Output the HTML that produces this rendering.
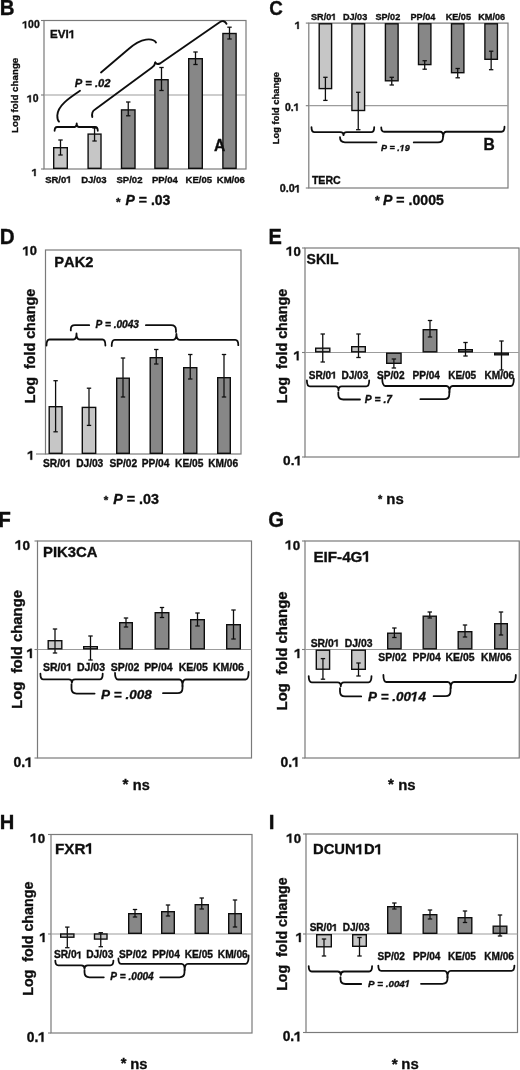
<!DOCTYPE html><html><head><meta charset="utf-8"><style>html,body{margin:0;padding:0;background:#fff}svg{display:block}</style></head><body><svg width="520" height="1070" viewBox="0 0 520 1070"><defs><filter id="bl" x="0" y="0" width="1" height="1"><feGaussianBlur stdDeviation="0.35"/></filter></defs><g filter="url(#bl)"><rect width="520" height="1070" fill="#fff"/><g transform="translate(-0.33,14.60) scale(0.9684,1)">
<text x="0.00" y="0.00" xml:space="preserve" style="font-family:'Liberation Sans',sans-serif;font-weight:bold;font-kerning:none;font-size:21.16px" fill="#111" stroke="#111" stroke-width="0.35"><tspan style="font-style:normal">B</tspan></text>
</g>
<rect x="44.00" y="20.50" width="202.00" height="148.50" fill="none" stroke="#7a7a7a" stroke-width="1.2"/>
<line x1="44" y1="95" x2="246" y2="95" stroke="#9c9c9c" stroke-width="1.2"/>
<line x1="41" y1="95" x2="44" y2="95" stroke="#7a7a7a" stroke-width="1.1"/>
<line x1="41" y1="20.5" x2="44" y2="20.5" stroke="#7a7a7a" stroke-width="1.1"/>
<line x1="41" y1="169" x2="44" y2="169" stroke="#7a7a7a" stroke-width="1.1"/>
<text x="22.34" y="28.34" xml:space="preserve" style="font-family:'Liberation Sans',sans-serif;font-weight:bold;font-kerning:none;font-size:10.40px" fill="#111" stroke="#111" stroke-width="0.35"><tspan style="font-style:normal"> 00</tspan></text>
<path transform="translate(22.34,28.34) scale(0.00508,-0.00508)" d="M478,0L478,1090L60,880L60,1130L520,1409L759,1409L759,0Z" fill="#111" stroke="#111" stroke-width="0.35" vector-effect="non-scaling-stroke"/>
<text x="26.98" y="102.34" xml:space="preserve" style="font-family:'Liberation Sans',sans-serif;font-weight:bold;font-kerning:none;font-size:10.40px" fill="#111" stroke="#111" stroke-width="0.35"><tspan style="font-style:normal"> 0</tspan></text>
<path transform="translate(26.98,102.34) scale(0.00508,-0.00508)" d="M478,0L478,1090L60,880L60,1130L520,1409L759,1409L759,0Z" fill="#111" stroke="#111" stroke-width="0.35" vector-effect="non-scaling-stroke"/>
<text x="31.77" y="176.09" xml:space="preserve" style="font-family:'Liberation Sans',sans-serif;font-weight:bold;font-kerning:none;font-size:10.40px" fill="#111" stroke="#111" stroke-width="0.35"><tspan style="font-style:normal"> </tspan></text>
<path transform="translate(31.77,176.09) scale(0.00508,-0.00508)" d="M478,0L478,1090L60,880L60,1130L520,1409L759,1409L759,0Z" fill="#111" stroke="#111" stroke-width="0.35" vector-effect="non-scaling-stroke"/>
<text x="50.04" y="38.27" xml:space="preserve" style="font-family:'Liberation Sans',sans-serif;font-weight:bold;font-kerning:none;font-size:11.64px" fill="#111" stroke="#111" stroke-width="0.35"><tspan style="font-style:normal">EVI </tspan></text>
<path transform="translate(68.81,38.27) scale(0.00569,-0.00569)" d="M478,0L478,1090L60,880L60,1130L520,1409L759,1409L759,0Z" fill="#111" stroke="#111" stroke-width="0.35" vector-effect="non-scaling-stroke"/>
<text transform="translate(17.61,133.03) rotate(-90)" xml:space="preserve" style="font-family:'Liberation Sans',sans-serif;font-weight:bold;font-size:9.76px" fill="#111" stroke="#111" stroke-width="0.35">Log fold change</text>
<rect x="53.70" y="147.70" width="13.60" height="20.60" fill="#c6c6c6" stroke="#111" stroke-width="1.4"/>
<line x1="60.5" y1="140" x2="60.5" y2="155" stroke="#111" stroke-width="1.3"/>
<line x1="58.3" y1="140" x2="62.7" y2="140" stroke="#111" stroke-width="1.3"/>
<line x1="58.3" y1="155" x2="62.7" y2="155" stroke="#111" stroke-width="1.3"/>
<rect x="88.10" y="134.10" width="12.90" height="34.20" fill="#c6c6c6" stroke="#111" stroke-width="1.4"/>
<line x1="94.55000000000001" y1="128" x2="94.55000000000001" y2="141" stroke="#111" stroke-width="1.3"/>
<line x1="92.35000000000001" y1="128" x2="96.75000000000001" y2="128" stroke="#111" stroke-width="1.3"/>
<line x1="92.35000000000001" y1="141" x2="96.75000000000001" y2="141" stroke="#111" stroke-width="1.3"/>
<rect x="121.50" y="109.90" width="13.50" height="58.40" fill="#878787" stroke="#111" stroke-width="1.4"/>
<line x1="128.25" y1="102" x2="128.25" y2="115.8" stroke="#111" stroke-width="1.3"/>
<line x1="126.05" y1="102" x2="130.45" y2="102" stroke="#111" stroke-width="1.3"/>
<line x1="126.05" y1="115.8" x2="130.45" y2="115.8" stroke="#111" stroke-width="1.3"/>
<rect x="154.90" y="79.70" width="13.20" height="88.60" fill="#878787" stroke="#111" stroke-width="1.4"/>
<line x1="161.5" y1="67.5" x2="161.5" y2="90.5" stroke="#111" stroke-width="1.3"/>
<line x1="159.3" y1="67.5" x2="163.7" y2="67.5" stroke="#111" stroke-width="1.3"/>
<line x1="159.3" y1="90.5" x2="163.7" y2="90.5" stroke="#111" stroke-width="1.3"/>
<rect x="188.70" y="58.70" width="13.60" height="109.60" fill="#878787" stroke="#111" stroke-width="1.4"/>
<line x1="195.5" y1="52" x2="195.5" y2="64.5" stroke="#111" stroke-width="1.3"/>
<line x1="193.3" y1="52" x2="197.7" y2="52" stroke="#111" stroke-width="1.3"/>
<line x1="193.3" y1="64.5" x2="197.7" y2="64.5" stroke="#111" stroke-width="1.3"/>
<rect x="222.90" y="33.50" width="13.20" height="134.80" fill="#878787" stroke="#111" stroke-width="1.4"/>
<line x1="229.5" y1="27.2" x2="229.5" y2="39" stroke="#111" stroke-width="1.3"/>
<line x1="227.3" y1="27.2" x2="231.7" y2="27.2" stroke="#111" stroke-width="1.3"/>
<line x1="227.3" y1="39" x2="231.7" y2="39" stroke="#111" stroke-width="1.3"/>
<text x="45.13" y="182.81" xml:space="preserve" style="font-family:'Liberation Sans',sans-serif;font-weight:bold;font-kerning:none;font-size:9.54px" fill="#111" stroke="#111" stroke-width="0.35"><tspan style="font-style:normal">SR/0 </tspan></text>
<path transform="translate(66.34,182.81) scale(0.00466,-0.00466)" d="M478,0L478,1090L60,880L60,1130L520,1409L759,1409L759,0Z" fill="#111" stroke="#111" stroke-width="0.35" vector-effect="non-scaling-stroke"/>
<text x="81.14" y="182.81" xml:space="preserve" style="font-family:'Liberation Sans',sans-serif;font-weight:bold;font-kerning:none;font-size:9.54px" fill="#111" stroke="#111" stroke-width="0.35"><tspan style="font-style:normal">DJ/03</tspan></text>
<text x="116.50" y="182.81" xml:space="preserve" style="font-family:'Liberation Sans',sans-serif;font-weight:bold;font-kerning:none;font-size:9.54px" fill="#111" stroke="#111" stroke-width="0.35"><tspan style="font-style:normal">SP/02</tspan></text>
<text x="151.92" y="182.81" xml:space="preserve" style="font-family:'Liberation Sans',sans-serif;font-weight:bold;font-kerning:none;font-size:9.54px" fill="#111" stroke="#111" stroke-width="0.35"><tspan style="font-style:normal">PP/04</tspan></text>
<text x="185.55" y="182.81" xml:space="preserve" style="font-family:'Liberation Sans',sans-serif;font-weight:bold;font-kerning:none;font-size:9.54px" fill="#111" stroke="#111" stroke-width="0.35"><tspan style="font-style:normal">KE/05</tspan></text>
<text x="216.76" y="182.81" xml:space="preserve" style="font-family:'Liberation Sans',sans-serif;font-weight:bold;font-kerning:none;font-size:9.54px" fill="#111" stroke="#111" stroke-width="0.35"><tspan style="font-style:normal">KM/06</tspan></text>
<text x="214.11" y="150.66" xml:space="preserve" style="font-family:'Liberation Sans',sans-serif;font-weight:bold;font-kerning:none;font-size:15.67px" fill="#111" stroke="#111" stroke-width="0.35"><tspan style="font-style:normal">A</tspan></text>
<text x="74.78" y="86.71" xml:space="preserve" style="font-family:'Liberation Sans',sans-serif;font-weight:bold;font-kerning:none;font-size:11.18px" fill="#111" stroke="#111" stroke-width="0.35"><tspan style="font-style:italic">P = .02</tspan></text>
<path d="M54.6,130.8 Q54.6,127 57.1,127 L74.7,127 Q76.7,127 76.7,123.3 Q76.7,127 78.7,127 L95.3,127 Q97.8,127 97.8,130.8" fill="none" stroke="#111" stroke-width="1.8" stroke-linecap="round" stroke-linejoin="round"/>
<path d="M80,90.8 C70,97.5 57.5,105.5 57.3,115.5 C57.3,118.5 57.8,120.5 59,121.7" fill="none" stroke="#111" stroke-width="1.9" stroke-linecap="round" stroke-linejoin="round"/>
<path d="M101,72.5 L128,49.5 C133,45 138.5,40.5 146,39.6 C151,39 154.5,40 156,42.5" fill="none" stroke="#111" stroke-width="1.9" stroke-linecap="round" stroke-linejoin="round"/>
<path d="M92.3,117 C91.5,113 92.5,111 95,109.5 L152,67.5 C154,66 155,64.5 155.3,62.5" fill="none" stroke="#111" stroke-width="1.9" stroke-linecap="round" stroke-linejoin="round"/>
<path d="M155.3,62.5 C156,64 157.5,64.5 160,63.5 L220,22 C222.5,20.5 225,21 226.5,23.8" fill="none" stroke="#111" stroke-width="1.9" stroke-linecap="round" stroke-linejoin="round"/>
<text x="115.94" y="205.58" xml:space="preserve" style="font-family:'Liberation Sans',sans-serif;font-weight:bold;font-kerning:none;font-size:11.84px" fill="#111" stroke="#111" stroke-width="0.35"><tspan style="font-style:normal">*</tspan></text>
<text x="125.62" y="204.98" xml:space="preserve" style="font-family:'Liberation Sans',sans-serif;font-weight:bold;font-kerning:none;font-size:14.00px" fill="#111" stroke="#111" stroke-width="0.35"><tspan style="font-style:italic">P</tspan><tspan style="font-style:normal"> = .03</tspan></text>
<g transform="translate(269.25,15.29) scale(0.8948,1)">
<text x="0.00" y="0.00" xml:space="preserve" style="font-family:'Liberation Sans',sans-serif;font-weight:bold;font-kerning:none;font-size:20.99px" fill="#111" stroke="#111" stroke-width="0.35"><tspan style="font-style:normal">C</tspan></text>
</g>
<rect x="308.80" y="23.10" width="199.20" height="164.90" fill="none" stroke="#7a7a7a" stroke-width="1.2"/>
<line x1="308.8" y1="105.7" x2="508" y2="105.7" stroke="#9c9c9c" stroke-width="1.2"/>
<line x1="305.8" y1="23.1" x2="308.8" y2="23.1" stroke="#7a7a7a" stroke-width="1.1"/>
<line x1="305.8" y1="105.7" x2="308.8" y2="105.7" stroke="#7a7a7a" stroke-width="1.1"/>
<line x1="305.8" y1="188" x2="308.8" y2="188" stroke="#7a7a7a" stroke-width="1.1"/>
<text x="294.87" y="28.94" xml:space="preserve" style="font-family:'Liberation Sans',sans-serif;font-weight:bold;font-kerning:none;font-size:10.40px" fill="#111" stroke="#111" stroke-width="0.35"><tspan style="font-style:normal"> </tspan></text>
<path transform="translate(294.87,28.94) scale(0.00508,-0.00508)" d="M478,0L478,1090L60,880L60,1130L520,1409L759,1409L759,0Z" fill="#111" stroke="#111" stroke-width="0.35" vector-effect="non-scaling-stroke"/>
<text x="285.08" y="110.74" xml:space="preserve" style="font-family:'Liberation Sans',sans-serif;font-weight:bold;font-kerning:none;font-size:10.40px" fill="#111" stroke="#111" stroke-width="0.35"><tspan style="font-style:normal">0. </tspan></text>
<path transform="translate(293.75,110.74) scale(0.00508,-0.00508)" d="M478,0L478,1090L60,880L60,1130L520,1409L759,1409L759,0Z" fill="#111" stroke="#111" stroke-width="0.35" vector-effect="non-scaling-stroke"/>
<text x="279.63" y="192.43" xml:space="preserve" style="font-family:'Liberation Sans',sans-serif;font-weight:bold;font-kerning:none;font-size:10.80px" fill="#111" stroke="#111" stroke-width="0.35"><tspan style="font-style:normal">0.0 </tspan></text>
<path transform="translate(294.64,192.43) scale(0.00527,-0.00527)" d="M478,0L478,1090L60,880L60,1130L520,1409L759,1409L759,0Z" fill="#111" stroke="#111" stroke-width="0.35" vector-effect="non-scaling-stroke"/>
<text transform="translate(279.31,144.21) rotate(-90)" xml:space="preserve" style="font-family:'Liberation Sans',sans-serif;font-weight:bold;font-size:9.37px" fill="#111" stroke="#111" stroke-width="0.35">Log fold change</text>
<rect x="319.20" y="23.80" width="12.40" height="64.80" fill="#c6c6c6" stroke="#111" stroke-width="1.4"/>
<line x1="325.4" y1="77.3" x2="325.4" y2="100.4" stroke="#111" stroke-width="1.3"/>
<line x1="323.2" y1="77.3" x2="327.59999999999997" y2="77.3" stroke="#111" stroke-width="1.3"/>
<line x1="323.2" y1="100.4" x2="327.59999999999997" y2="100.4" stroke="#111" stroke-width="1.3"/>
<rect x="351.90" y="23.80" width="12.70" height="86.70" fill="#c6c6c6" stroke="#111" stroke-width="1.4"/>
<line x1="358.25" y1="92.3" x2="358.25" y2="129.7" stroke="#111" stroke-width="1.3"/>
<line x1="356.05" y1="92.3" x2="360.45" y2="92.3" stroke="#111" stroke-width="1.3"/>
<line x1="356.05" y1="129.7" x2="360.45" y2="129.7" stroke="#111" stroke-width="1.3"/>
<rect x="385.40" y="23.80" width="12.70" height="57.00" fill="#878787" stroke="#111" stroke-width="1.4"/>
<line x1="391.75" y1="77.3" x2="391.75" y2="85" stroke="#111" stroke-width="1.3"/>
<line x1="389.55" y1="77.3" x2="393.95" y2="77.3" stroke="#111" stroke-width="1.3"/>
<line x1="389.55" y1="85" x2="393.95" y2="85" stroke="#111" stroke-width="1.3"/>
<rect x="418.50" y="23.80" width="12.40" height="40.80" fill="#878787" stroke="#111" stroke-width="1.4"/>
<line x1="424.70000000000005" y1="60.7" x2="424.70000000000005" y2="69.2" stroke="#111" stroke-width="1.3"/>
<line x1="422.50000000000006" y1="60.7" x2="426.90000000000003" y2="60.7" stroke="#111" stroke-width="1.3"/>
<line x1="422.50000000000006" y1="69.2" x2="426.90000000000003" y2="69.2" stroke="#111" stroke-width="1.3"/>
<rect x="451.50" y="23.80" width="12.40" height="48.90" fill="#878787" stroke="#111" stroke-width="1.4"/>
<line x1="457.70000000000005" y1="68.5" x2="457.70000000000005" y2="77.8" stroke="#111" stroke-width="1.3"/>
<line x1="455.50000000000006" y1="68.5" x2="459.90000000000003" y2="68.5" stroke="#111" stroke-width="1.3"/>
<line x1="455.50000000000006" y1="77.8" x2="459.90000000000003" y2="77.8" stroke="#111" stroke-width="1.3"/>
<rect x="484.90" y="23.80" width="12.50" height="35.50" fill="#878787" stroke="#111" stroke-width="1.4"/>
<line x1="491.15" y1="51.2" x2="491.15" y2="69.7" stroke="#111" stroke-width="1.3"/>
<line x1="488.95" y1="51.2" x2="493.34999999999997" y2="51.2" stroke="#111" stroke-width="1.3"/>
<line x1="488.95" y1="69.7" x2="493.34999999999997" y2="69.7" stroke="#111" stroke-width="1.3"/>
<text x="311.03" y="20.06" xml:space="preserve" style="font-family:'Liberation Sans',sans-serif;font-weight:bold;font-kerning:none;font-size:9.12px" fill="#111" stroke="#111" stroke-width="0.35"><tspan style="font-style:normal">SR/0 </tspan></text>
<path transform="translate(331.31,20.06) scale(0.00445,-0.00445)" d="M478,0L478,1090L60,880L60,1130L520,1409L759,1409L759,0Z" fill="#111" stroke="#111" stroke-width="0.35" vector-effect="non-scaling-stroke"/>
<text x="342.91" y="20.06" xml:space="preserve" style="font-family:'Liberation Sans',sans-serif;font-weight:bold;font-kerning:none;font-size:9.12px" fill="#111" stroke="#111" stroke-width="0.35"><tspan style="font-style:normal">DJ/03</tspan></text>
<text x="375.42" y="20.06" xml:space="preserve" style="font-family:'Liberation Sans',sans-serif;font-weight:bold;font-kerning:none;font-size:9.12px" fill="#111" stroke="#111" stroke-width="0.35"><tspan style="font-style:normal">SP/02</tspan></text>
<text x="410.50" y="20.06" xml:space="preserve" style="font-family:'Liberation Sans',sans-serif;font-weight:bold;font-kerning:none;font-size:9.12px" fill="#111" stroke="#111" stroke-width="0.35"><tspan style="font-style:normal">PP/04</tspan></text>
<text x="445.64" y="20.06" xml:space="preserve" style="font-family:'Liberation Sans',sans-serif;font-weight:bold;font-kerning:none;font-size:9.12px" fill="#111" stroke="#111" stroke-width="0.35"><tspan style="font-style:normal">KE/05</tspan></text>
<text x="478.28" y="20.06" xml:space="preserve" style="font-family:'Liberation Sans',sans-serif;font-weight:bold;font-kerning:none;font-size:9.12px" fill="#111" stroke="#111" stroke-width="0.35"><tspan style="font-style:normal">KM/06</tspan></text>
<text x="311.89" y="183.66" xml:space="preserve" style="font-family:'Liberation Sans',sans-serif;font-weight:bold;font-kerning:none;font-size:10.61px" fill="#111" stroke="#111" stroke-width="0.35"><tspan style="font-style:normal">TERC</tspan></text>
<text x="483.49" y="150.37" xml:space="preserve" style="font-family:'Liberation Sans',sans-serif;font-weight:bold;font-kerning:none;font-size:15.57px" fill="#111" stroke="#111" stroke-width="0.35"><tspan style="font-style:normal">B</tspan></text>
<text x="375.04" y="205.06" xml:space="preserve" style="font-family:'Liberation Sans',sans-serif;font-weight:bold;font-kerning:none;font-size:12.11px" fill="#111" stroke="#111" stroke-width="0.35"><tspan style="font-style:normal">*</tspan></text>
<text x="383.02" y="204.67" xml:space="preserve" style="font-family:'Liberation Sans',sans-serif;font-weight:bold;font-kerning:none;font-size:14.12px" fill="#111" stroke="#111" stroke-width="0.35"><tspan style="font-style:italic">P</tspan><tspan style="font-style:normal"> = .0005</tspan></text>
<g transform="translate(-0.34,243.50) scale(0.9436,1)">
<text x="0.00" y="0.00" xml:space="preserve" style="font-family:'Liberation Sans',sans-serif;font-weight:bold;font-kerning:none;font-size:21.88px" fill="#111" stroke="#111" stroke-width="0.35"><tspan style="font-style:normal">D</tspan></text>
</g>
<rect x="45.50" y="250.00" width="195.50" height="204.00" fill="none" stroke="#7a7a7a" stroke-width="1.2"/>
<line x1="36" y1="454" x2="45.5" y2="454" stroke="#7a7a7a" stroke-width="1.1"/>
<text x="22.66" y="255.40" xml:space="preserve" style="font-family:'Liberation Sans',sans-serif;font-weight:bold;font-kerning:none;font-size:12.90px" fill="#111" stroke="#111" stroke-width="0.35"><tspan style="font-style:normal"> 0</tspan></text>
<path transform="translate(22.66,255.40) scale(0.00630,-0.00630)" d="M478,0L478,1090L60,880L60,1130L520,1409L759,1409L759,0Z" fill="#111" stroke="#111" stroke-width="0.35" vector-effect="non-scaling-stroke"/>
<text x="27.37" y="459.80" xml:space="preserve" style="font-family:'Liberation Sans',sans-serif;font-weight:bold;font-kerning:none;font-size:12.90px" fill="#111" stroke="#111" stroke-width="0.35"><tspan style="font-style:normal"> </tspan></text>
<path transform="translate(27.37,459.80) scale(0.00630,-0.00630)" d="M478,0L478,1090L60,880L60,1130L520,1409L759,1409L759,0Z" fill="#111" stroke="#111" stroke-width="0.35" vector-effect="non-scaling-stroke"/>
<text x="54.25" y="267.04" xml:space="preserve" style="font-family:'Liberation Sans',sans-serif;font-weight:bold;font-kerning:none;font-size:14.69px" fill="#111" stroke="#111" stroke-width="0.35"><tspan style="font-style:normal">PAK2</tspan></text>
<text transform="translate(34.89,403.23) rotate(-90)" xml:space="preserve" style="font-family:'Liberation Sans',sans-serif;font-weight:bold;font-size:14.32px" fill="#111" stroke="#111" stroke-width="0.35">Log  fold change</text>
<rect x="49.20" y="406.70" width="12.80" height="46.60" fill="#c6c6c6" stroke="#111" stroke-width="1.4"/>
<line x1="55.6" y1="380.7" x2="55.6" y2="431.8" stroke="#111" stroke-width="1.3"/>
<line x1="53.4" y1="380.7" x2="57.800000000000004" y2="380.7" stroke="#111" stroke-width="1.3"/>
<line x1="53.4" y1="431.8" x2="57.800000000000004" y2="431.8" stroke="#111" stroke-width="1.3"/>
<rect x="82.30" y="407.40" width="13.40" height="45.90" fill="#c6c6c6" stroke="#111" stroke-width="1.4"/>
<line x1="89.0" y1="388.2" x2="89.0" y2="425.4" stroke="#111" stroke-width="1.3"/>
<line x1="86.8" y1="388.2" x2="91.2" y2="388.2" stroke="#111" stroke-width="1.3"/>
<line x1="86.8" y1="425.4" x2="91.2" y2="425.4" stroke="#111" stroke-width="1.3"/>
<rect x="116.70" y="378.20" width="12.60" height="75.10" fill="#878787" stroke="#111" stroke-width="1.4"/>
<line x1="123.0" y1="358" x2="123.0" y2="397" stroke="#111" stroke-width="1.3"/>
<line x1="120.8" y1="358" x2="125.2" y2="358" stroke="#111" stroke-width="1.3"/>
<line x1="120.8" y1="397" x2="125.2" y2="397" stroke="#111" stroke-width="1.3"/>
<rect x="150.20" y="357.70" width="12.10" height="95.60" fill="#878787" stroke="#111" stroke-width="1.4"/>
<line x1="156.25" y1="349.5" x2="156.25" y2="364" stroke="#111" stroke-width="1.3"/>
<line x1="154.05" y1="349.5" x2="158.45" y2="349.5" stroke="#111" stroke-width="1.3"/>
<line x1="154.05" y1="364" x2="158.45" y2="364" stroke="#111" stroke-width="1.3"/>
<rect x="183.70" y="367.70" width="13.10" height="85.60" fill="#878787" stroke="#111" stroke-width="1.4"/>
<line x1="190.25" y1="354.5" x2="190.25" y2="379" stroke="#111" stroke-width="1.3"/>
<line x1="188.05" y1="354.5" x2="192.45" y2="354.5" stroke="#111" stroke-width="1.3"/>
<line x1="188.05" y1="379" x2="192.45" y2="379" stroke="#111" stroke-width="1.3"/>
<rect x="217.70" y="377.70" width="12.60" height="75.60" fill="#878787" stroke="#111" stroke-width="1.4"/>
<line x1="224.0" y1="354.5" x2="224.0" y2="397" stroke="#111" stroke-width="1.3"/>
<line x1="221.8" y1="354.5" x2="226.2" y2="354.5" stroke="#111" stroke-width="1.3"/>
<line x1="221.8" y1="397" x2="226.2" y2="397" stroke="#111" stroke-width="1.3"/>
<text x="43.04" y="466.79" xml:space="preserve" style="font-family:'Liberation Sans',sans-serif;font-weight:bold;font-kerning:none;font-size:10.18px" fill="#111" stroke="#111" stroke-width="0.35"><tspan style="font-style:normal">SR/0 </tspan></text>
<path transform="translate(65.67,466.79) scale(0.00497,-0.00497)" d="M478,0L478,1090L60,880L60,1130L520,1409L759,1409L759,0Z" fill="#111" stroke="#111" stroke-width="0.35" vector-effect="non-scaling-stroke"/>
<text x="76.13" y="466.79" xml:space="preserve" style="font-family:'Liberation Sans',sans-serif;font-weight:bold;font-kerning:none;font-size:10.18px" fill="#111" stroke="#111" stroke-width="0.35"><tspan style="font-style:normal">DJ/03</tspan></text>
<text x="109.38" y="466.79" xml:space="preserve" style="font-family:'Liberation Sans',sans-serif;font-weight:bold;font-kerning:none;font-size:10.18px" fill="#111" stroke="#111" stroke-width="0.35"><tspan style="font-style:normal">SP/02</tspan></text>
<text x="141.72" y="466.79" xml:space="preserve" style="font-family:'Liberation Sans',sans-serif;font-weight:bold;font-kerning:none;font-size:10.18px" fill="#111" stroke="#111" stroke-width="0.35"><tspan style="font-style:normal">PP/04</tspan></text>
<text x="175.05" y="466.79" xml:space="preserve" style="font-family:'Liberation Sans',sans-serif;font-weight:bold;font-kerning:none;font-size:10.18px" fill="#111" stroke="#111" stroke-width="0.35"><tspan style="font-style:normal">KE/05</tspan></text>
<text x="208.16" y="466.79" xml:space="preserve" style="font-family:'Liberation Sans',sans-serif;font-weight:bold;font-kerning:none;font-size:10.18px" fill="#111" stroke="#111" stroke-width="0.35"><tspan style="font-style:normal">KM/06</tspan></text>
<text x="103.84" y="503.90" xml:space="preserve" style="font-family:'Liberation Sans',sans-serif;font-weight:bold;font-kerning:none;font-size:11.58px" fill="#111" stroke="#111" stroke-width="0.35"><tspan style="font-style:normal">*</tspan></text>
<text x="113.21" y="504.14" xml:space="preserve" style="font-family:'Liberation Sans',sans-serif;font-weight:bold;font-kerning:none;font-size:14.32px" fill="#111" stroke="#111" stroke-width="0.35"><tspan style="font-style:italic">P</tspan><tspan style="font-style:normal"> = .03</tspan></text>
<g transform="translate(268.60,243.50) scale(0.9324,1)">
<text x="0.00" y="0.00" xml:space="preserve" style="font-family:'Liberation Sans',sans-serif;font-weight:bold;font-kerning:none;font-size:21.45px" fill="#111" stroke="#111" stroke-width="0.35"><tspan style="font-style:normal">E</tspan></text>
</g>
<rect x="305.00" y="248.00" width="214.00" height="209.00" fill="none" stroke="#7a7a7a" stroke-width="1.2"/>
<line x1="305" y1="352.5" x2="519" y2="352.5" stroke="#9c9c9c" stroke-width="1.2"/>
<line x1="302" y1="352.5" x2="305" y2="352.5" stroke="#7a7a7a" stroke-width="1.1"/>
<line x1="302" y1="248" x2="305" y2="248" stroke="#7a7a7a" stroke-width="1.1"/>
<line x1="302" y1="457" x2="305" y2="457" stroke="#7a7a7a" stroke-width="1.1"/>
<text x="286.19" y="255.67" xml:space="preserve" style="font-family:'Liberation Sans',sans-serif;font-weight:bold;font-kerning:none;font-size:13.10px" fill="#111" stroke="#111" stroke-width="0.35"><tspan style="font-style:normal"> 0</tspan></text>
<path transform="translate(286.19,255.67) scale(0.00640,-0.00640)" d="M478,0L478,1090L60,880L60,1130L520,1409L759,1409L759,0Z" fill="#111" stroke="#111" stroke-width="0.35" vector-effect="non-scaling-stroke"/>
<text x="293.73" y="360.32" xml:space="preserve" style="font-family:'Liberation Sans',sans-serif;font-weight:bold;font-kerning:none;font-size:13.10px" fill="#111" stroke="#111" stroke-width="0.35"><tspan style="font-style:normal"> </tspan></text>
<path transform="translate(293.73,360.32) scale(0.00640,-0.00640)" d="M478,0L478,1090L60,880L60,1130L520,1409L759,1409L759,0Z" fill="#111" stroke="#111" stroke-width="0.35" vector-effect="non-scaling-stroke"/>
<text x="283.08" y="465.29" xml:space="preserve" style="font-family:'Liberation Sans',sans-serif;font-weight:bold;font-kerning:none;font-size:13.60px" fill="#111" stroke="#111" stroke-width="0.35"><tspan style="font-style:normal">0. </tspan></text>
<path transform="translate(294.43,465.29) scale(0.00664,-0.00664)" d="M478,0L478,1090L60,880L60,1130L520,1409L759,1409L759,0Z" fill="#111" stroke="#111" stroke-width="0.35" vector-effect="non-scaling-stroke"/>
<text x="306.58" y="264.08" xml:space="preserve" style="font-family:'Liberation Sans',sans-serif;font-weight:bold;font-kerning:none;font-size:14.00px" fill="#111" stroke="#111" stroke-width="0.35"><tspan style="font-style:normal">SKIL</tspan></text>
<text transform="translate(287.14,403.23) rotate(-90)" xml:space="preserve" style="font-family:'Liberation Sans',sans-serif;font-weight:bold;font-size:14.32px" fill="#111" stroke="#111" stroke-width="0.35">Log  fold change</text>
<rect x="315.70" y="348.20" width="14.10" height="3.60" fill="#c6c6c6" stroke="#111" stroke-width="1.4"/>
<line x1="322.75" y1="334" x2="322.75" y2="362" stroke="#111" stroke-width="1.3"/>
<line x1="320.55" y1="334" x2="324.95" y2="334" stroke="#111" stroke-width="1.3"/>
<line x1="320.55" y1="362" x2="324.95" y2="362" stroke="#111" stroke-width="1.3"/>
<rect x="351.70" y="346.70" width="13.60" height="5.10" fill="#c6c6c6" stroke="#111" stroke-width="1.4"/>
<line x1="358.5" y1="334" x2="358.5" y2="357.5" stroke="#111" stroke-width="1.3"/>
<line x1="356.3" y1="334" x2="360.7" y2="334" stroke="#111" stroke-width="1.3"/>
<line x1="356.3" y1="357.5" x2="360.7" y2="357.5" stroke="#111" stroke-width="1.3"/>
<rect x="386.70" y="353.20" width="14.35" height="10.10" fill="#878787" stroke="#111" stroke-width="1.4"/>
<line x1="393.875" y1="359" x2="393.875" y2="368" stroke="#111" stroke-width="1.3"/>
<line x1="391.675" y1="359" x2="396.075" y2="359" stroke="#111" stroke-width="1.3"/>
<line x1="391.675" y1="368" x2="396.075" y2="368" stroke="#111" stroke-width="1.3"/>
<rect x="423.20" y="329.70" width="13.60" height="22.10" fill="#878787" stroke="#111" stroke-width="1.4"/>
<line x1="430.0" y1="320.5" x2="430.0" y2="337" stroke="#111" stroke-width="1.3"/>
<line x1="427.8" y1="320.5" x2="432.2" y2="320.5" stroke="#111" stroke-width="1.3"/>
<line x1="427.8" y1="337" x2="432.2" y2="337" stroke="#111" stroke-width="1.3"/>
<rect x="458.70" y="349.70" width="13.60" height="2.10" fill="#878787" stroke="#111" stroke-width="1.4"/>
<line x1="465.5" y1="342.5" x2="465.5" y2="356" stroke="#111" stroke-width="1.3"/>
<line x1="463.3" y1="342.5" x2="467.7" y2="342.5" stroke="#111" stroke-width="1.3"/>
<line x1="463.3" y1="356" x2="467.7" y2="356" stroke="#111" stroke-width="1.3"/>
<rect x="494.70" y="353.20" width="13.60" height="1.60" fill="#878787" stroke="#111" stroke-width="1.4"/>
<line x1="501.5" y1="341" x2="501.5" y2="370" stroke="#111" stroke-width="1.3"/>
<line x1="499.3" y1="341" x2="503.7" y2="341" stroke="#111" stroke-width="1.3"/>
<line x1="499.3" y1="370" x2="503.7" y2="370" stroke="#111" stroke-width="1.3"/>
<text x="308.78" y="378.60" xml:space="preserve" style="font-family:'Liberation Sans',sans-serif;font-weight:bold;font-kerning:none;font-size:10.07px" fill="#111" stroke="#111" stroke-width="0.35"><tspan style="font-style:normal">SR/0 </tspan></text>
<path transform="translate(331.17,378.60) scale(0.00492,-0.00492)" d="M478,0L478,1090L60,880L60,1130L520,1409L759,1409L759,0Z" fill="#111" stroke="#111" stroke-width="0.35" vector-effect="non-scaling-stroke"/>
<text x="341.43" y="378.60" xml:space="preserve" style="font-family:'Liberation Sans',sans-serif;font-weight:bold;font-kerning:none;font-size:10.07px" fill="#111" stroke="#111" stroke-width="0.35"><tspan style="font-style:normal">DJ/03</tspan></text>
<text x="377.08" y="378.60" xml:space="preserve" style="font-family:'Liberation Sans',sans-serif;font-weight:bold;font-kerning:none;font-size:10.07px" fill="#111" stroke="#111" stroke-width="0.35"><tspan style="font-style:normal">SP/02</tspan></text>
<text x="412.48" y="378.60" xml:space="preserve" style="font-family:'Liberation Sans',sans-serif;font-weight:bold;font-kerning:none;font-size:10.07px" fill="#111" stroke="#111" stroke-width="0.35"><tspan style="font-style:normal">PP/04</tspan></text>
<text x="448.15" y="378.60" xml:space="preserve" style="font-family:'Liberation Sans',sans-serif;font-weight:bold;font-kerning:none;font-size:10.07px" fill="#111" stroke="#111" stroke-width="0.35"><tspan style="font-style:normal">KE/05</tspan></text>
<text x="484.52" y="378.60" xml:space="preserve" style="font-family:'Liberation Sans',sans-serif;font-weight:bold;font-kerning:none;font-size:10.07px" fill="#111" stroke="#111" stroke-width="0.35"><tspan style="font-style:normal">KM/06</tspan></text>
<text x="378.04" y="503.08" xml:space="preserve" style="font-family:'Liberation Sans',sans-serif;font-weight:bold;font-kerning:none;font-size:11.05px" fill="#111" stroke="#111" stroke-width="0.35"><tspan style="font-style:normal">*</tspan></text>
<text x="386.33" y="503.70" xml:space="preserve" style="font-family:'Liberation Sans',sans-serif;font-weight:bold;font-kerning:none;font-size:14.91px" fill="#111" stroke="#111" stroke-width="0.35"><tspan style="font-style:normal">ns</tspan></text>
<g transform="translate(-1.61,526.80) scale(0.9416,1)">
<text x="0.00" y="0.00" xml:space="preserve" style="font-family:'Liberation Sans',sans-serif;font-weight:bold;font-kerning:none;font-size:21.45px" fill="#111" stroke="#111" stroke-width="0.35"><tspan style="font-style:normal">F</tspan></text>
</g>
<rect x="37.50" y="541.00" width="214.00" height="217.00" fill="none" stroke="#7a7a7a" stroke-width="1.2"/>
<line x1="37.5" y1="649.5" x2="251.5" y2="649.5" stroke="#9c9c9c" stroke-width="1.2"/>
<line x1="34.5" y1="649.5" x2="37.5" y2="649.5" stroke="#7a7a7a" stroke-width="1.1"/>
<line x1="34.5" y1="541" x2="37.5" y2="541" stroke="#7a7a7a" stroke-width="1.1"/>
<line x1="34.5" y1="758" x2="37.5" y2="758" stroke="#7a7a7a" stroke-width="1.1"/>
<text x="15.07" y="549.66" xml:space="preserve" style="font-family:'Liberation Sans',sans-serif;font-weight:bold;font-kerning:none;font-size:13.50px" fill="#111" stroke="#111" stroke-width="0.35"><tspan style="font-style:normal"> 0</tspan></text>
<path transform="translate(15.07,549.66) scale(0.00659,-0.00659)" d="M478,0L478,1090L60,880L60,1130L520,1409L759,1409L759,0Z" fill="#111" stroke="#111" stroke-width="0.35" vector-effect="non-scaling-stroke"/>
<text x="26.80" y="658.06" xml:space="preserve" style="font-family:'Liberation Sans',sans-serif;font-weight:bold;font-kerning:none;font-size:13.50px" fill="#111" stroke="#111" stroke-width="0.35"><tspan style="font-style:normal"> </tspan></text>
<path transform="translate(26.80,658.06) scale(0.00659,-0.00659)" d="M478,0L478,1090L60,880L60,1130L520,1409L759,1409L759,0Z" fill="#111" stroke="#111" stroke-width="0.35" vector-effect="non-scaling-stroke"/>
<text x="13.43" y="767.03" xml:space="preserve" style="font-family:'Liberation Sans',sans-serif;font-weight:bold;font-kerning:none;font-size:14.00px" fill="#111" stroke="#111" stroke-width="0.35"><tspan style="font-style:normal">0. </tspan></text>
<path transform="translate(25.11,767.03) scale(0.00684,-0.00684)" d="M478,0L478,1090L60,880L60,1130L520,1409L759,1409L759,0Z" fill="#111" stroke="#111" stroke-width="0.35" vector-effect="non-scaling-stroke"/>
<text x="43.04" y="556.61" xml:space="preserve" style="font-family:'Liberation Sans',sans-serif;font-weight:bold;font-kerning:none;font-size:14.83px" fill="#111" stroke="#111" stroke-width="0.35"><tspan style="font-style:normal">PIK3CA</tspan></text>
<text transform="translate(22.42,708.77) rotate(-90)" xml:space="preserve" style="font-family:'Liberation Sans',sans-serif;font-weight:bold;font-size:14.85px" fill="#111" stroke="#111" stroke-width="0.35">Log  fold change</text>
<rect x="48.20" y="640.70" width="13.60" height="8.10" fill="#c6c6c6" stroke="#111" stroke-width="1.4"/>
<line x1="55.0" y1="629" x2="55.0" y2="653" stroke="#111" stroke-width="1.3"/>
<line x1="52.8" y1="629" x2="57.2" y2="629" stroke="#111" stroke-width="1.3"/>
<line x1="52.8" y1="653" x2="57.2" y2="653" stroke="#111" stroke-width="1.3"/>
<rect x="83.70" y="646.70" width="13.60" height="2.10" fill="#c6c6c6" stroke="#111" stroke-width="1.4"/>
<line x1="90.5" y1="636" x2="90.5" y2="660" stroke="#111" stroke-width="1.3"/>
<line x1="88.3" y1="636" x2="92.7" y2="636" stroke="#111" stroke-width="1.3"/>
<line x1="88.3" y1="660" x2="92.7" y2="660" stroke="#111" stroke-width="1.3"/>
<rect x="119.70" y="622.70" width="12.60" height="26.10" fill="#878787" stroke="#111" stroke-width="1.4"/>
<line x1="126.0" y1="618" x2="126.0" y2="627" stroke="#111" stroke-width="1.3"/>
<line x1="123.8" y1="618" x2="128.2" y2="618" stroke="#111" stroke-width="1.3"/>
<line x1="123.8" y1="627" x2="128.2" y2="627" stroke="#111" stroke-width="1.3"/>
<rect x="155.20" y="612.70" width="13.60" height="36.10" fill="#878787" stroke="#111" stroke-width="1.4"/>
<line x1="162.0" y1="607.5" x2="162.0" y2="617.5" stroke="#111" stroke-width="1.3"/>
<line x1="159.8" y1="607.5" x2="164.2" y2="607.5" stroke="#111" stroke-width="1.3"/>
<line x1="159.8" y1="617.5" x2="164.2" y2="617.5" stroke="#111" stroke-width="1.3"/>
<rect x="190.70" y="619.70" width="13.60" height="29.10" fill="#878787" stroke="#111" stroke-width="1.4"/>
<line x1="197.5" y1="613" x2="197.5" y2="626" stroke="#111" stroke-width="1.3"/>
<line x1="195.3" y1="613" x2="199.7" y2="613" stroke="#111" stroke-width="1.3"/>
<line x1="195.3" y1="626" x2="199.7" y2="626" stroke="#111" stroke-width="1.3"/>
<rect x="226.70" y="624.70" width="13.60" height="24.10" fill="#878787" stroke="#111" stroke-width="1.4"/>
<line x1="233.5" y1="610" x2="233.5" y2="639" stroke="#111" stroke-width="1.3"/>
<line x1="231.3" y1="610" x2="235.7" y2="610" stroke="#111" stroke-width="1.3"/>
<line x1="231.3" y1="639" x2="235.7" y2="639" stroke="#111" stroke-width="1.3"/>
<text x="42.98" y="670.75" xml:space="preserve" style="font-family:'Liberation Sans',sans-serif;font-weight:bold;font-kerning:none;font-size:10.49px" fill="#111" stroke="#111" stroke-width="0.35"><tspan style="font-style:normal">SR/0 </tspan></text>
<path transform="translate(66.30,670.75) scale(0.00512,-0.00512)" d="M478,0L478,1090L60,880L60,1130L520,1409L759,1409L759,0Z" fill="#111" stroke="#111" stroke-width="0.35" vector-effect="non-scaling-stroke"/>
<text x="77.06" y="670.75" xml:space="preserve" style="font-family:'Liberation Sans',sans-serif;font-weight:bold;font-kerning:none;font-size:10.49px" fill="#111" stroke="#111" stroke-width="0.35"><tspan style="font-style:normal">DJ/03</tspan></text>
<text x="110.81" y="670.75" xml:space="preserve" style="font-family:'Liberation Sans',sans-serif;font-weight:bold;font-kerning:none;font-size:10.49px" fill="#111" stroke="#111" stroke-width="0.35"><tspan style="font-style:normal">SP/02</tspan></text>
<text x="144.14" y="670.75" xml:space="preserve" style="font-family:'Liberation Sans',sans-serif;font-weight:bold;font-kerning:none;font-size:10.49px" fill="#111" stroke="#111" stroke-width="0.35"><tspan style="font-style:normal">PP/04</tspan></text>
<text x="178.76" y="670.75" xml:space="preserve" style="font-family:'Liberation Sans',sans-serif;font-weight:bold;font-kerning:none;font-size:10.49px" fill="#111" stroke="#111" stroke-width="0.35"><tspan style="font-style:normal">KE/05</tspan></text>
<text x="213.05" y="670.75" xml:space="preserve" style="font-family:'Liberation Sans',sans-serif;font-weight:bold;font-kerning:none;font-size:10.49px" fill="#111" stroke="#111" stroke-width="0.35"><tspan style="font-style:normal">KM/06</tspan></text>
<text x="122.62" y="789.21" xml:space="preserve" style="font-family:'Liberation Sans',sans-serif;font-weight:bold;font-kerning:none;font-size:15.26px" fill="#111" stroke="#111" stroke-width="0.35"><tspan style="font-style:normal">*</tspan></text>
<text x="132.86" y="789.60" xml:space="preserve" style="font-family:'Liberation Sans',sans-serif;font-weight:bold;font-kerning:none;font-size:14.53px" fill="#111" stroke="#111" stroke-width="0.35"><tspan style="font-style:normal">ns</tspan></text>
<g transform="translate(268.19,527.18) scale(0.9357,1)">
<text x="0.00" y="0.00" xml:space="preserve" style="font-family:'Liberation Sans',sans-serif;font-weight:bold;font-kerning:none;font-size:21.69px" fill="#111" stroke="#111" stroke-width="0.35"><tspan style="font-style:normal">G</tspan></text>
</g>
<rect x="305.00" y="541.00" width="214.25" height="217.00" fill="none" stroke="#7a7a7a" stroke-width="1.2"/>
<line x1="305" y1="649.5" x2="519.25" y2="649.5" stroke="#9c9c9c" stroke-width="1.2"/>
<line x1="302" y1="649.5" x2="305" y2="649.5" stroke="#7a7a7a" stroke-width="1.1"/>
<line x1="302" y1="541" x2="305" y2="541" stroke="#7a7a7a" stroke-width="1.1"/>
<line x1="302" y1="758" x2="305" y2="758" stroke="#7a7a7a" stroke-width="1.1"/>
<text x="285.23" y="549.62" xml:space="preserve" style="font-family:'Liberation Sans',sans-serif;font-weight:bold;font-kerning:none;font-size:13.40px" fill="#111" stroke="#111" stroke-width="0.35"><tspan style="font-style:normal"> 0</tspan></text>
<path transform="translate(285.23,549.62) scale(0.00654,-0.00654)" d="M478,0L478,1090L60,880L60,1130L520,1409L759,1409L759,0Z" fill="#111" stroke="#111" stroke-width="0.35" vector-effect="non-scaling-stroke"/>
<text x="294.32" y="658.12" xml:space="preserve" style="font-family:'Liberation Sans',sans-serif;font-weight:bold;font-kerning:none;font-size:13.40px" fill="#111" stroke="#111" stroke-width="0.35"><tspan style="font-style:normal"> </tspan></text>
<path transform="translate(294.32,658.12) scale(0.00654,-0.00654)" d="M478,0L478,1090L60,880L60,1130L520,1409L759,1409L759,0Z" fill="#111" stroke="#111" stroke-width="0.35" vector-effect="non-scaling-stroke"/>
<text x="280.60" y="766.70" xml:space="preserve" style="font-family:'Liberation Sans',sans-serif;font-weight:bold;font-kerning:none;font-size:13.90px" fill="#111" stroke="#111" stroke-width="0.35"><tspan style="font-style:normal">0. </tspan></text>
<path transform="translate(292.19,766.70) scale(0.00679,-0.00679)" d="M478,0L478,1090L60,880L60,1130L520,1409L759,1409L759,0Z" fill="#111" stroke="#111" stroke-width="0.35" vector-effect="non-scaling-stroke"/>
<text x="313.51" y="561.73" xml:space="preserve" style="font-family:'Liberation Sans',sans-serif;font-weight:bold;font-kerning:none;font-size:15.16px" fill="#111" stroke="#111" stroke-width="0.35"><tspan style="font-style:normal">EIF-4G </tspan></text>
<path transform="translate(362.36,561.73) scale(0.00740,-0.00740)" d="M478,0L478,1090L60,880L60,1130L520,1409L759,1409L759,0Z" fill="#111" stroke="#111" stroke-width="0.35" vector-effect="non-scaling-stroke"/>
<text transform="translate(287.02,710.27) rotate(-90)" xml:space="preserve" style="font-family:'Liberation Sans',sans-serif;font-weight:bold;font-size:14.85px" fill="#111" stroke="#111" stroke-width="0.35">Log  fold change</text>
<rect x="316.30" y="650.20" width="13.30" height="19.00" fill="#c6c6c6" stroke="#111" stroke-width="1.4"/>
<line x1="322.95000000000005" y1="658.6" x2="322.95000000000005" y2="679.2" stroke="#111" stroke-width="1.3"/>
<line x1="320.75000000000006" y1="658.6" x2="325.15000000000003" y2="658.6" stroke="#111" stroke-width="1.3"/>
<line x1="320.75000000000006" y1="679.2" x2="325.15000000000003" y2="679.2" stroke="#111" stroke-width="1.3"/>
<rect x="351.70" y="650.20" width="13.60" height="19.10" fill="#c6c6c6" stroke="#111" stroke-width="1.4"/>
<line x1="358.5" y1="663" x2="358.5" y2="676" stroke="#111" stroke-width="1.3"/>
<line x1="356.3" y1="663" x2="360.7" y2="663" stroke="#111" stroke-width="1.3"/>
<line x1="356.3" y1="676" x2="360.7" y2="676" stroke="#111" stroke-width="1.3"/>
<rect x="387.70" y="633.20" width="13.35" height="15.60" fill="#878787" stroke="#111" stroke-width="1.4"/>
<line x1="394.375" y1="628" x2="394.375" y2="637.5" stroke="#111" stroke-width="1.3"/>
<line x1="392.175" y1="628" x2="396.575" y2="628" stroke="#111" stroke-width="1.3"/>
<line x1="392.175" y1="637.5" x2="396.575" y2="637.5" stroke="#111" stroke-width="1.3"/>
<rect x="423.20" y="616.20" width="13.10" height="32.60" fill="#878787" stroke="#111" stroke-width="1.4"/>
<line x1="429.75" y1="612" x2="429.75" y2="618" stroke="#111" stroke-width="1.3"/>
<line x1="427.55" y1="612" x2="431.95" y2="612" stroke="#111" stroke-width="1.3"/>
<line x1="427.55" y1="618" x2="431.95" y2="618" stroke="#111" stroke-width="1.3"/>
<rect x="458.20" y="631.70" width="13.60" height="17.10" fill="#878787" stroke="#111" stroke-width="1.4"/>
<line x1="465.0" y1="625" x2="465.0" y2="637" stroke="#111" stroke-width="1.3"/>
<line x1="462.8" y1="625" x2="467.2" y2="625" stroke="#111" stroke-width="1.3"/>
<line x1="462.8" y1="637" x2="467.2" y2="637" stroke="#111" stroke-width="1.3"/>
<rect x="494.70" y="623.70" width="12.60" height="25.10" fill="#878787" stroke="#111" stroke-width="1.4"/>
<line x1="501.0" y1="612" x2="501.0" y2="635" stroke="#111" stroke-width="1.3"/>
<line x1="498.8" y1="612" x2="503.2" y2="612" stroke="#111" stroke-width="1.3"/>
<line x1="498.8" y1="635" x2="503.2" y2="635" stroke="#111" stroke-width="1.3"/>
<text x="310.71" y="646.56" xml:space="preserve" style="font-family:'Liberation Sans',sans-serif;font-weight:bold;font-kerning:none;font-size:10.39px" fill="#111" stroke="#111" stroke-width="0.35"><tspan style="font-style:normal">SR/0 </tspan></text>
<path transform="translate(333.81,646.56) scale(0.00507,-0.00507)" d="M478,0L478,1090L60,880L60,1130L520,1409L759,1409L759,0Z" fill="#111" stroke="#111" stroke-width="0.35" vector-effect="non-scaling-stroke"/>
<text x="344.75" y="646.56" xml:space="preserve" style="font-family:'Liberation Sans',sans-serif;font-weight:bold;font-kerning:none;font-size:10.39px" fill="#111" stroke="#111" stroke-width="0.35"><tspan style="font-style:normal">DJ/03</tspan></text>
<text x="378.25" y="661.26" xml:space="preserve" style="font-family:'Liberation Sans',sans-serif;font-weight:bold;font-kerning:none;font-size:10.39px" fill="#111" stroke="#111" stroke-width="0.35"><tspan style="font-style:normal">SP/02</tspan></text>
<text x="412.58" y="661.26" xml:space="preserve" style="font-family:'Liberation Sans',sans-serif;font-weight:bold;font-kerning:none;font-size:10.39px" fill="#111" stroke="#111" stroke-width="0.35"><tspan style="font-style:normal">PP/04</tspan></text>
<text x="445.60" y="661.26" xml:space="preserve" style="font-family:'Liberation Sans',sans-serif;font-weight:bold;font-kerning:none;font-size:10.39px" fill="#111" stroke="#111" stroke-width="0.35"><tspan style="font-style:normal">KE/05</tspan></text>
<text x="480.94" y="661.26" xml:space="preserve" style="font-family:'Liberation Sans',sans-serif;font-weight:bold;font-kerning:none;font-size:10.39px" fill="#111" stroke="#111" stroke-width="0.35"><tspan style="font-style:normal">KM/06</tspan></text>
<text x="388.03" y="789.47" xml:space="preserve" style="font-family:'Liberation Sans',sans-serif;font-weight:bold;font-kerning:none;font-size:15.00px" fill="#111" stroke="#111" stroke-width="0.35"><tspan style="font-style:normal">*</tspan></text>
<text x="398.23" y="790.40" xml:space="preserve" style="font-family:'Liberation Sans',sans-serif;font-weight:bold;font-kerning:none;font-size:14.91px" fill="#111" stroke="#111" stroke-width="0.35"><tspan style="font-style:normal">ns</tspan></text>
<g transform="translate(-0.31,828.70) scale(0.9598,1)">
<text x="0.00" y="0.00" xml:space="preserve" style="font-family:'Liberation Sans',sans-serif;font-weight:bold;font-kerning:none;font-size:21.01px" fill="#111" stroke="#111" stroke-width="0.35"><tspan style="font-style:normal">H</tspan></text>
</g>
<rect x="51.00" y="834.50" width="201.00" height="198.50" fill="none" stroke="#7a7a7a" stroke-width="1.2"/>
<line x1="51" y1="934" x2="252" y2="934" stroke="#9c9c9c" stroke-width="1.2"/>
<line x1="48" y1="934" x2="51" y2="934" stroke="#7a7a7a" stroke-width="1.1"/>
<line x1="48" y1="834.5" x2="51" y2="834.5" stroke="#7a7a7a" stroke-width="1.1"/>
<line x1="48" y1="1033" x2="51" y2="1033" stroke="#7a7a7a" stroke-width="1.1"/>
<text x="30.28" y="842.69" xml:space="preserve" style="font-family:'Liberation Sans',sans-serif;font-weight:bold;font-kerning:none;font-size:13.30px" fill="#111" stroke="#111" stroke-width="0.35"><tspan style="font-style:normal"> 0</tspan></text>
<path transform="translate(30.28,842.69) scale(0.00649,-0.00649)" d="M478,0L478,1090L60,880L60,1130L520,1409L759,1409L759,0Z" fill="#111" stroke="#111" stroke-width="0.35" vector-effect="non-scaling-stroke"/>
<text x="39.54" y="942.09" xml:space="preserve" style="font-family:'Liberation Sans',sans-serif;font-weight:bold;font-kerning:none;font-size:13.30px" fill="#111" stroke="#111" stroke-width="0.35"><tspan style="font-style:normal"> </tspan></text>
<path transform="translate(39.54,942.09) scale(0.00649,-0.00649)" d="M478,0L478,1090L60,880L60,1130L520,1409L759,1409L759,0Z" fill="#111" stroke="#111" stroke-width="0.35" vector-effect="non-scaling-stroke"/>
<text x="26.70" y="1041.80" xml:space="preserve" style="font-family:'Liberation Sans',sans-serif;font-weight:bold;font-kerning:none;font-size:13.90px" fill="#111" stroke="#111" stroke-width="0.35"><tspan style="font-style:normal">0. </tspan></text>
<path transform="translate(38.29,1041.80) scale(0.00679,-0.00679)" d="M478,0L478,1090L60,880L60,1130L520,1409L759,1409L759,0Z" fill="#111" stroke="#111" stroke-width="0.35" vector-effect="non-scaling-stroke"/>
<text x="55.01" y="853.74" xml:space="preserve" style="font-family:'Liberation Sans',sans-serif;font-weight:bold;font-kerning:none;font-size:15.18px" fill="#111" stroke="#111" stroke-width="0.35"><tspan style="font-style:normal">FXR </tspan></text>
<path transform="translate(85.38,853.74) scale(0.00741,-0.00741)" d="M478,0L478,1090L60,880L60,1130L520,1409L759,1409L759,0Z" fill="#111" stroke="#111" stroke-width="0.35" vector-effect="non-scaling-stroke"/>
<text transform="translate(32.78,995.83) rotate(-90)" xml:space="preserve" style="font-family:'Liberation Sans',sans-serif;font-weight:bold;font-size:14.29px" fill="#111" stroke="#111" stroke-width="0.35">Log  fold change</text>
<rect x="60.70" y="934.00" width="13.20" height="3.20" fill="#c6c6c6" stroke="#111" stroke-width="1.4"/>
<line x1="67.3" y1="927.1" x2="67.3" y2="947.7" stroke="#111" stroke-width="1.3"/>
<line x1="65.1" y1="927.1" x2="69.5" y2="927.1" stroke="#111" stroke-width="1.3"/>
<line x1="65.1" y1="947.7" x2="69.5" y2="947.7" stroke="#111" stroke-width="1.3"/>
<rect x="94.50" y="934.00" width="12.50" height="5.10" fill="#c6c6c6" stroke="#111" stroke-width="1.4"/>
<line x1="100.75" y1="932.7" x2="100.75" y2="946.7" stroke="#111" stroke-width="1.3"/>
<line x1="98.55" y1="932.7" x2="102.95" y2="932.7" stroke="#111" stroke-width="1.3"/>
<line x1="98.55" y1="946.7" x2="102.95" y2="946.7" stroke="#111" stroke-width="1.3"/>
<rect x="128.70" y="913.70" width="12.60" height="19.60" fill="#878787" stroke="#111" stroke-width="1.4"/>
<line x1="135.0" y1="909.5" x2="135.0" y2="917" stroke="#111" stroke-width="1.3"/>
<line x1="132.8" y1="909.5" x2="137.2" y2="909.5" stroke="#111" stroke-width="1.3"/>
<line x1="132.8" y1="917" x2="137.2" y2="917" stroke="#111" stroke-width="1.3"/>
<rect x="161.70" y="911.70" width="12.60" height="21.60" fill="#878787" stroke="#111" stroke-width="1.4"/>
<line x1="168.0" y1="905" x2="168.0" y2="916" stroke="#111" stroke-width="1.3"/>
<line x1="165.8" y1="905" x2="170.2" y2="905" stroke="#111" stroke-width="1.3"/>
<line x1="165.8" y1="916" x2="170.2" y2="916" stroke="#111" stroke-width="1.3"/>
<rect x="195.20" y="904.70" width="13.10" height="28.60" fill="#878787" stroke="#111" stroke-width="1.4"/>
<line x1="201.75" y1="898" x2="201.75" y2="909" stroke="#111" stroke-width="1.3"/>
<line x1="199.55" y1="898" x2="203.95" y2="898" stroke="#111" stroke-width="1.3"/>
<line x1="199.55" y1="909" x2="203.95" y2="909" stroke="#111" stroke-width="1.3"/>
<rect x="228.70" y="913.70" width="12.60" height="19.60" fill="#878787" stroke="#111" stroke-width="1.4"/>
<line x1="235.0" y1="900" x2="235.0" y2="927" stroke="#111" stroke-width="1.3"/>
<line x1="232.8" y1="900" x2="237.2" y2="900" stroke="#111" stroke-width="1.3"/>
<line x1="232.8" y1="927" x2="237.2" y2="927" stroke="#111" stroke-width="1.3"/>
<text x="53.94" y="958.44" xml:space="preserve" style="font-family:'Liberation Sans',sans-serif;font-weight:bold;font-kerning:none;font-size:10.18px" fill="#111" stroke="#111" stroke-width="0.35"><tspan style="font-style:normal">SR/0 </tspan></text>
<path transform="translate(76.57,958.44) scale(0.00497,-0.00497)" d="M478,0L478,1090L60,880L60,1130L520,1409L759,1409L759,0Z" fill="#111" stroke="#111" stroke-width="0.35" vector-effect="non-scaling-stroke"/>
<text x="86.28" y="958.44" xml:space="preserve" style="font-family:'Liberation Sans',sans-serif;font-weight:bold;font-kerning:none;font-size:10.18px" fill="#111" stroke="#111" stroke-width="0.35"><tspan style="font-style:normal">DJ/03</tspan></text>
<text x="119.08" y="958.44" xml:space="preserve" style="font-family:'Liberation Sans',sans-serif;font-weight:bold;font-kerning:none;font-size:10.18px" fill="#111" stroke="#111" stroke-width="0.35"><tspan style="font-style:normal">SP/02</tspan></text>
<text x="152.17" y="958.44" xml:space="preserve" style="font-family:'Liberation Sans',sans-serif;font-weight:bold;font-kerning:none;font-size:10.18px" fill="#111" stroke="#111" stroke-width="0.35"><tspan style="font-style:normal">PP/04</tspan></text>
<text x="184.70" y="958.44" xml:space="preserve" style="font-family:'Liberation Sans',sans-serif;font-weight:bold;font-kerning:none;font-size:10.18px" fill="#111" stroke="#111" stroke-width="0.35"><tspan style="font-style:normal">KE/05</tspan></text>
<text x="217.81" y="958.44" xml:space="preserve" style="font-family:'Liberation Sans',sans-serif;font-weight:bold;font-kerning:none;font-size:10.18px" fill="#111" stroke="#111" stroke-width="0.35"><tspan style="font-style:normal">KM/06</tspan></text>
<text x="120.73" y="1068.39" xml:space="preserve" style="font-family:'Liberation Sans',sans-serif;font-weight:bold;font-kerning:none;font-size:14.74px" fill="#111" stroke="#111" stroke-width="0.35"><tspan style="font-style:normal">*</tspan></text>
<text x="130.24" y="1068.87" xml:space="preserve" style="font-family:'Liberation Sans',sans-serif;font-weight:bold;font-kerning:none;font-size:14.81px" fill="#111" stroke="#111" stroke-width="0.35"><tspan style="font-style:normal">ns</tspan></text>
<g transform="translate(268.86,828.70) scale(0.9845,1)">
<text x="0.00" y="0.00" xml:space="preserve" style="font-family:'Liberation Sans',sans-serif;font-weight:bold;font-kerning:none;font-size:21.01px" fill="#111" stroke="#111" stroke-width="0.35"><tspan style="font-style:normal">I</tspan></text>
</g>
<rect x="306.00" y="834.00" width="211.50" height="198.50" fill="none" stroke="#7a7a7a" stroke-width="1.2"/>
<line x1="306" y1="934" x2="517.5" y2="934" stroke="#9c9c9c" stroke-width="1.2"/>
<line x1="303" y1="934" x2="306" y2="934" stroke="#7a7a7a" stroke-width="1.1"/>
<line x1="303" y1="834" x2="306" y2="834" stroke="#7a7a7a" stroke-width="1.1"/>
<line x1="303" y1="1032.5" x2="306" y2="1032.5" stroke="#7a7a7a" stroke-width="1.1"/>
<text x="286.39" y="842.75" xml:space="preserve" style="font-family:'Liberation Sans',sans-serif;font-weight:bold;font-kerning:none;font-size:13.20px" fill="#111" stroke="#111" stroke-width="0.35"><tspan style="font-style:normal"> 0</tspan></text>
<path transform="translate(286.39,842.75) scale(0.00645,-0.00645)" d="M478,0L478,1090L60,880L60,1130L520,1409L759,1409L759,0Z" fill="#111" stroke="#111" stroke-width="0.35" vector-effect="non-scaling-stroke"/>
<text x="295.86" y="942.05" xml:space="preserve" style="font-family:'Liberation Sans',sans-serif;font-weight:bold;font-kerning:none;font-size:13.20px" fill="#111" stroke="#111" stroke-width="0.35"><tspan style="font-style:normal"> </tspan></text>
<path transform="translate(295.86,942.05) scale(0.00645,-0.00645)" d="M478,0L478,1090L60,880L60,1130L520,1409L759,1409L759,0Z" fill="#111" stroke="#111" stroke-width="0.35" vector-effect="non-scaling-stroke"/>
<text x="282.66" y="1041.36" xml:space="preserve" style="font-family:'Liberation Sans',sans-serif;font-weight:bold;font-kerning:none;font-size:13.80px" fill="#111" stroke="#111" stroke-width="0.35"><tspan style="font-style:normal">0. </tspan></text>
<path transform="translate(294.17,1041.36) scale(0.00674,-0.00674)" d="M478,0L478,1090L60,880L60,1130L520,1409L759,1409L759,0Z" fill="#111" stroke="#111" stroke-width="0.35" vector-effect="non-scaling-stroke"/>
<text x="313.04" y="854.34" xml:space="preserve" style="font-family:'Liberation Sans',sans-serif;font-weight:bold;font-kerning:none;font-size:14.77px" fill="#111" stroke="#111" stroke-width="0.35"><tspan style="font-style:normal">DCUN D </tspan></text>
<path transform="translate(355.69,854.34) scale(0.00721,-0.00721)" d="M478,0L478,1090L60,880L60,1130L520,1409L759,1409L759,0Z" fill="#111" stroke="#111" stroke-width="0.35" vector-effect="non-scaling-stroke"/>
<path transform="translate(374.57,854.34) scale(0.00721,-0.00721)" d="M478,0L478,1090L60,880L60,1130L520,1409L759,1409L759,0Z" fill="#111" stroke="#111" stroke-width="0.35" vector-effect="non-scaling-stroke"/>
<text transform="translate(286.76,990.82) rotate(-90)" xml:space="preserve" style="font-family:'Liberation Sans',sans-serif;font-weight:bold;font-size:14.20px" fill="#111" stroke="#111" stroke-width="0.35">Log  fold change</text>
<rect x="316.70" y="934.70" width="14.60" height="12.10" fill="#c6c6c6" stroke="#111" stroke-width="1.4"/>
<line x1="324.0" y1="939" x2="324.0" y2="956" stroke="#111" stroke-width="1.3"/>
<line x1="321.8" y1="939" x2="326.2" y2="939" stroke="#111" stroke-width="1.3"/>
<line x1="321.8" y1="956" x2="326.2" y2="956" stroke="#111" stroke-width="1.3"/>
<rect x="352.70" y="934.70" width="13.60" height="11.60" fill="#c6c6c6" stroke="#111" stroke-width="1.4"/>
<line x1="359.5" y1="937.5" x2="359.5" y2="956" stroke="#111" stroke-width="1.3"/>
<line x1="357.3" y1="937.5" x2="361.7" y2="937.5" stroke="#111" stroke-width="1.3"/>
<line x1="357.3" y1="956" x2="361.7" y2="956" stroke="#111" stroke-width="1.3"/>
<rect x="387.70" y="906.70" width="13.35" height="26.60" fill="#878787" stroke="#111" stroke-width="1.4"/>
<line x1="394.375" y1="903" x2="394.375" y2="909" stroke="#111" stroke-width="1.3"/>
<line x1="392.175" y1="903" x2="396.575" y2="903" stroke="#111" stroke-width="1.3"/>
<line x1="392.175" y1="909" x2="396.575" y2="909" stroke="#111" stroke-width="1.3"/>
<rect x="423.20" y="914.70" width="13.60" height="18.60" fill="#878787" stroke="#111" stroke-width="1.4"/>
<line x1="430.0" y1="910" x2="430.0" y2="919" stroke="#111" stroke-width="1.3"/>
<line x1="427.8" y1="910" x2="432.2" y2="910" stroke="#111" stroke-width="1.3"/>
<line x1="427.8" y1="919" x2="432.2" y2="919" stroke="#111" stroke-width="1.3"/>
<rect x="458.20" y="917.70" width="13.60" height="15.60" fill="#878787" stroke="#111" stroke-width="1.4"/>
<line x1="465.0" y1="911" x2="465.0" y2="922.5" stroke="#111" stroke-width="1.3"/>
<line x1="462.8" y1="911" x2="467.2" y2="911" stroke="#111" stroke-width="1.3"/>
<line x1="462.8" y1="922.5" x2="467.2" y2="922.5" stroke="#111" stroke-width="1.3"/>
<rect x="493.20" y="926.20" width="13.60" height="7.10" fill="#878787" stroke="#111" stroke-width="1.4"/>
<line x1="500.0" y1="915" x2="500.0" y2="936" stroke="#111" stroke-width="1.3"/>
<line x1="497.8" y1="915" x2="502.2" y2="915" stroke="#111" stroke-width="1.3"/>
<line x1="497.8" y1="936" x2="502.2" y2="936" stroke="#111" stroke-width="1.3"/>
<text x="309.63" y="931.05" xml:space="preserve" style="font-family:'Liberation Sans',sans-serif;font-weight:bold;font-kerning:none;font-size:10.07px" fill="#111" stroke="#111" stroke-width="0.35"><tspan style="font-style:normal">SR/0 </tspan></text>
<path transform="translate(332.02,931.05) scale(0.00492,-0.00492)" d="M478,0L478,1090L60,880L60,1130L520,1409L759,1409L759,0Z" fill="#111" stroke="#111" stroke-width="0.35" vector-effect="non-scaling-stroke"/>
<text x="342.73" y="931.05" xml:space="preserve" style="font-family:'Liberation Sans',sans-serif;font-weight:bold;font-kerning:none;font-size:10.07px" fill="#111" stroke="#111" stroke-width="0.35"><tspan style="font-style:normal">DJ/03</tspan></text>
<text x="377.48" y="960.45" xml:space="preserve" style="font-family:'Liberation Sans',sans-serif;font-weight:bold;font-kerning:none;font-size:10.07px" fill="#111" stroke="#111" stroke-width="0.35"><tspan style="font-style:normal">SP/02</tspan></text>
<text x="413.03" y="960.45" xml:space="preserve" style="font-family:'Liberation Sans',sans-serif;font-weight:bold;font-kerning:none;font-size:10.07px" fill="#111" stroke="#111" stroke-width="0.35"><tspan style="font-style:normal">PP/04</tspan></text>
<text x="447.95" y="960.45" xml:space="preserve" style="font-family:'Liberation Sans',sans-serif;font-weight:bold;font-kerning:none;font-size:10.07px" fill="#111" stroke="#111" stroke-width="0.35"><tspan style="font-style:normal">KE/05</tspan></text>
<text x="484.32" y="960.45" xml:space="preserve" style="font-family:'Liberation Sans',sans-serif;font-weight:bold;font-kerning:none;font-size:10.07px" fill="#111" stroke="#111" stroke-width="0.35"><tspan style="font-style:normal">KM/06</tspan></text>
<text x="391.82" y="1069.01" xml:space="preserve" style="font-family:'Liberation Sans',sans-serif;font-weight:bold;font-kerning:none;font-size:15.26px" fill="#111" stroke="#111" stroke-width="0.35"><tspan style="font-style:normal">*</tspan></text>
<text x="401.33" y="1069.35" xml:space="preserve" style="font-family:'Liberation Sans',sans-serif;font-weight:bold;font-kerning:none;font-size:14.91px" fill="#111" stroke="#111" stroke-width="0.35"><tspan style="font-style:normal">ns</tspan></text>
<path d="M311.5,127.2 Q311.5,132.2 314.5,132.2 L340.3,132.2 Q343.5,132.2 343.5,135.2 Q343.5,132.2 346.7,132.2 L371.2,132.2 Q374.2,132.2 374.2,127.2" fill="none" stroke="#111" stroke-width="1.8" stroke-linecap="round" stroke-linejoin="round"/>
<path d="M381.25,127.5 Q381.25,131.75 384.25,131.75 L440.05,131.75 Q443.25,131.75 443.25,136.5 Q443.25,131.75 446.45,131.75 L501.5,131.75 Q504.5,131.75 504.5,126.75" fill="none" stroke="#111" stroke-width="1.8" stroke-linecap="round" stroke-linejoin="round"/>
<path d="M340,137.2 L340,137.3 Q340,142.3 345,142.3 L376.5,142.3" fill="none" stroke="#111" stroke-width="1.8" stroke-linecap="round" stroke-linejoin="round"/>
<path d="M413.75,142.4 L438,142.4 Q443,142.4 443,137.4 L443,136.5" fill="none" stroke="#111" stroke-width="1.8" stroke-linecap="round" stroke-linejoin="round"/>
<text x="381.07" y="151.11" xml:space="preserve" style="font-family:'Liberation Sans',sans-serif;font-weight:bold;font-kerning:none;font-size:9.01px" fill="#111" stroke="#111" stroke-width="0.35"><tspan style="font-style:italic">P = . 9</tspan></text>
<path transform="translate(399.52,151.11) scale(0.00440,-0.00440)" d="M390,0L602,1090L161,880L210,1130L704,1409L954,1409L680,0Z" fill="#111" stroke="#111" stroke-width="0.35" vector-effect="non-scaling-stroke"/>
<path d="M46.5,345.5 Q46.5,339.5 49.5,339.5 L73.3,339.5 Q76.5,339.5 76.5,333.5 Q76.5,339.5 79.7,339.5 L102.4,339.5 Q105.4,339.5 105.4,345.5" fill="none" stroke="#111" stroke-width="1.8" stroke-linecap="round" stroke-linejoin="round"/>
<path d="M111.7,346 Q111.7,339.8 114.7,339.8 L173.20000000000002,339.8 Q176.4,339.8 176.4,333.8 Q176.4,339.8 179.6,339.8 L235.3,339.8 Q238.3,339.8 238.3,345.2" fill="none" stroke="#111" stroke-width="1.8" stroke-linecap="round" stroke-linejoin="round"/>
<path d="M70.8,330.4 L70.8,329.2 Q70.8,325.2 74.8,325.2 L89.2,325.2" fill="none" stroke="#111" stroke-width="1.8" stroke-linecap="round" stroke-linejoin="round"/>
<path d="M145.9,325.2 L171,325.2 Q176,325.2 176,330.2 L176,332" fill="none" stroke="#111" stroke-width="1.8" stroke-linecap="round" stroke-linejoin="round"/>
<text x="95.40" y="327.64" xml:space="preserve" style="font-family:'Liberation Sans',sans-serif;font-weight:bold;font-kerning:none;font-size:10.12px" fill="#111" stroke="#111" stroke-width="0.35"><tspan style="font-style:italic">P = .0043</tspan></text>
<path d="M306.9,380.5 Q306.9,386.4 309.9,386.4 L335.3,386.4 Q338.5,386.4 338.5,390.5 Q338.5,386.4 341.7,386.4 L366.2,386.4 Q369.2,386.4 369.2,380.5" fill="none" stroke="#111" stroke-width="1.8" stroke-linecap="round" stroke-linejoin="round"/>
<path d="M382.2,377.6 Q382.2,386 385.2,386 L446.3,386 Q449.5,386 449.5,392 Q449.5,386 452.7,386 L510.79999999999995,386 Q513.8,386 513.8,378.7" fill="none" stroke="#111" stroke-width="1.8" stroke-linecap="round" stroke-linejoin="round"/>
<path d="M338.3,392.5 L338.3,394.5 Q338.3,399.5 343.3,399.5 L360,399.5" fill="none" stroke="#111" stroke-width="1.8" stroke-linecap="round" stroke-linejoin="round"/>
<path d="M420.4,399.2 L444.3,399.2 Q449.3,399.2 449.3,394.2 L449.3,392" fill="none" stroke="#111" stroke-width="1.8" stroke-linecap="round" stroke-linejoin="round"/>
<text x="364.79" y="402.71" xml:space="preserve" style="font-family:'Liberation Sans',sans-serif;font-weight:bold;font-kerning:none;font-size:10.31px" fill="#111" stroke="#111" stroke-width="0.35"><tspan style="font-style:italic">P = .7</tspan></text>
<path d="M40.4,673.7 Q40.4,679.4 43.4,679.4 L68.7,679.4 Q71.9,679.4 71.9,682.7 Q71.9,679.4 75.10000000000001,679.4 L99.7,679.4 Q102.7,679.4 102.7,673.7" fill="none" stroke="#111" stroke-width="1.8" stroke-linecap="round" stroke-linejoin="round"/>
<path d="M115,672.8 Q115,679.5 118,679.5 L179.3,679.5 Q182.5,679.5 182.5,685.9 Q182.5,679.5 185.7,679.5 L245.6,679.5 Q248.6,679.5 248.6,672" fill="none" stroke="#111" stroke-width="1.8" stroke-linecap="round" stroke-linejoin="round"/>
<path d="M71.5,684.2 L71.5,688.6 Q71.5,693.6 76.5,693.6 L94.6,693.6" fill="none" stroke="#111" stroke-width="1.8" stroke-linecap="round" stroke-linejoin="round"/>
<path d="M163,693.2 L177.5,693.2 Q182.5,693.2 182.5,688.2 L182.5,686" fill="none" stroke="#111" stroke-width="1.8" stroke-linecap="round" stroke-linejoin="round"/>
<text x="101.03" y="699.27" xml:space="preserve" style="font-family:'Liberation Sans',sans-serif;font-weight:bold;font-kerning:none;font-size:13.53px" fill="#111" stroke="#111" stroke-width="0.35"><tspan style="font-style:italic">P = .008</tspan></text>
<path d="M308.7,676.1 Q308.7,682.4 311.7,682.4 L337.6,682.4 Q340.8,682.4 340.8,686.3 Q340.8,682.4 344.0,682.4 L368.5,682.4 Q371.5,682.4 371.5,676.1" fill="none" stroke="#111" stroke-width="1.8" stroke-linecap="round" stroke-linejoin="round"/>
<path d="M383.4,675 Q383.4,682 386.4,682 L447.6,682 Q450.8,682 450.8,688 Q450.8,682 454.0,682 L512.8,682 Q515.8,682 515.8,675" fill="none" stroke="#111" stroke-width="1.8" stroke-linecap="round" stroke-linejoin="round"/>
<path d="M340,688.2 L340,691.4 Q340,696.4 345,696.4 L361.2,696.4" fill="none" stroke="#111" stroke-width="1.8" stroke-linecap="round" stroke-linejoin="round"/>
<path d="M433.6,696.2 L445.5,696.2 Q450.5,696.2 450.5,691.2 L450.5,688" fill="none" stroke="#111" stroke-width="1.8" stroke-linecap="round" stroke-linejoin="round"/>
<text x="368.03" y="701.14" xml:space="preserve" style="font-family:'Liberation Sans',sans-serif;font-weight:bold;font-kerning:none;font-size:13.44px" fill="#111" stroke="#111" stroke-width="0.35"><tspan style="font-style:italic">P = .00 4</tspan></text>
<path transform="translate(410.48,701.14) scale(0.00656,-0.00656)" d="M390,0L602,1090L161,880L210,1130L704,1409L954,1409L680,0Z" fill="#111" stroke="#111" stroke-width="0.35" vector-effect="non-scaling-stroke"/>
<path d="M55.3,960.6 Q55.3,965.4 58.3,965.4 L81.3,965.4 Q84.5,965.4 84.5,968.8 Q84.5,965.4 87.7,965.4 L110.4,965.4 Q113.4,965.4 113.4,960.6" fill="none" stroke="#111" stroke-width="1.8" stroke-linecap="round" stroke-linejoin="round"/>
<path d="M118.4,958.4 Q118.4,963.9 121.4,963.9 L181.5,963.9 Q184.7,963.9 184.7,970.1 Q184.7,963.9 187.89999999999998,963.9 L245.6,963.9 Q248.6,963.9 248.6,955.5" fill="none" stroke="#111" stroke-width="1.8" stroke-linecap="round" stroke-linejoin="round"/>
<path d="M84.5,970.2 L84.5,972.3 Q84.5,977.3 89.5,977.3 L103.8,977.3" fill="none" stroke="#111" stroke-width="1.8" stroke-linecap="round" stroke-linejoin="round"/>
<path d="M160.2,977.3 L179.5,977.3 Q184.5,977.3 184.5,972.3 L184.5,970" fill="none" stroke="#111" stroke-width="1.8" stroke-linecap="round" stroke-linejoin="round"/>
<text x="110.30" y="980.48" xml:space="preserve" style="font-family:'Liberation Sans',sans-serif;font-weight:bold;font-kerning:none;font-size:10.08px" fill="#111" stroke="#111" stroke-width="0.35"><tspan style="font-style:italic">P = .0004</tspan></text>
<path d="M308.7,966.1 Q308.7,971.5 311.7,971.5 L337.6,971.5 Q340.8,971.5 340.8,974.9 Q340.8,971.5 344.0,971.5 L369.1,971.5 Q372.1,971.5 372.1,966.1" fill="none" stroke="#111" stroke-width="1.8" stroke-linecap="round" stroke-linejoin="round"/>
<path d="M378.3,965.6 Q378.3,970.9 381.3,970.9 L444.3,970.9 Q447.5,970.9 447.5,977.3 Q447.5,970.9 450.7,970.9 L511.4,970.9 Q514.4,970.9 514.4,965.6" fill="none" stroke="#111" stroke-width="1.8" stroke-linecap="round" stroke-linejoin="round"/>
<path d="M340.5,977.2 L340.5,979 Q340.5,984 345.5,984 L361.2,984" fill="none" stroke="#111" stroke-width="1.8" stroke-linecap="round" stroke-linejoin="round"/>
<path d="M421,983.8 L442.5,983.8 Q447.5,983.8 447.5,978.8 L447.5,977" fill="none" stroke="#111" stroke-width="1.8" stroke-linecap="round" stroke-linejoin="round"/>
<text x="368.10" y="986.98" xml:space="preserve" style="font-family:'Liberation Sans',sans-serif;font-weight:bold;font-kerning:none;font-size:9.78px" fill="#111" stroke="#111" stroke-width="0.35"><tspan style="font-style:italic">P = .004 </tspan></text>
<path transform="translate(404.46,986.98) scale(0.00478,-0.00478)" d="M390,0L602,1090L161,880L210,1130L704,1409L954,1409L680,0Z" fill="#111" stroke="#111" stroke-width="0.35" vector-effect="non-scaling-stroke"/></g></svg></body></html>
